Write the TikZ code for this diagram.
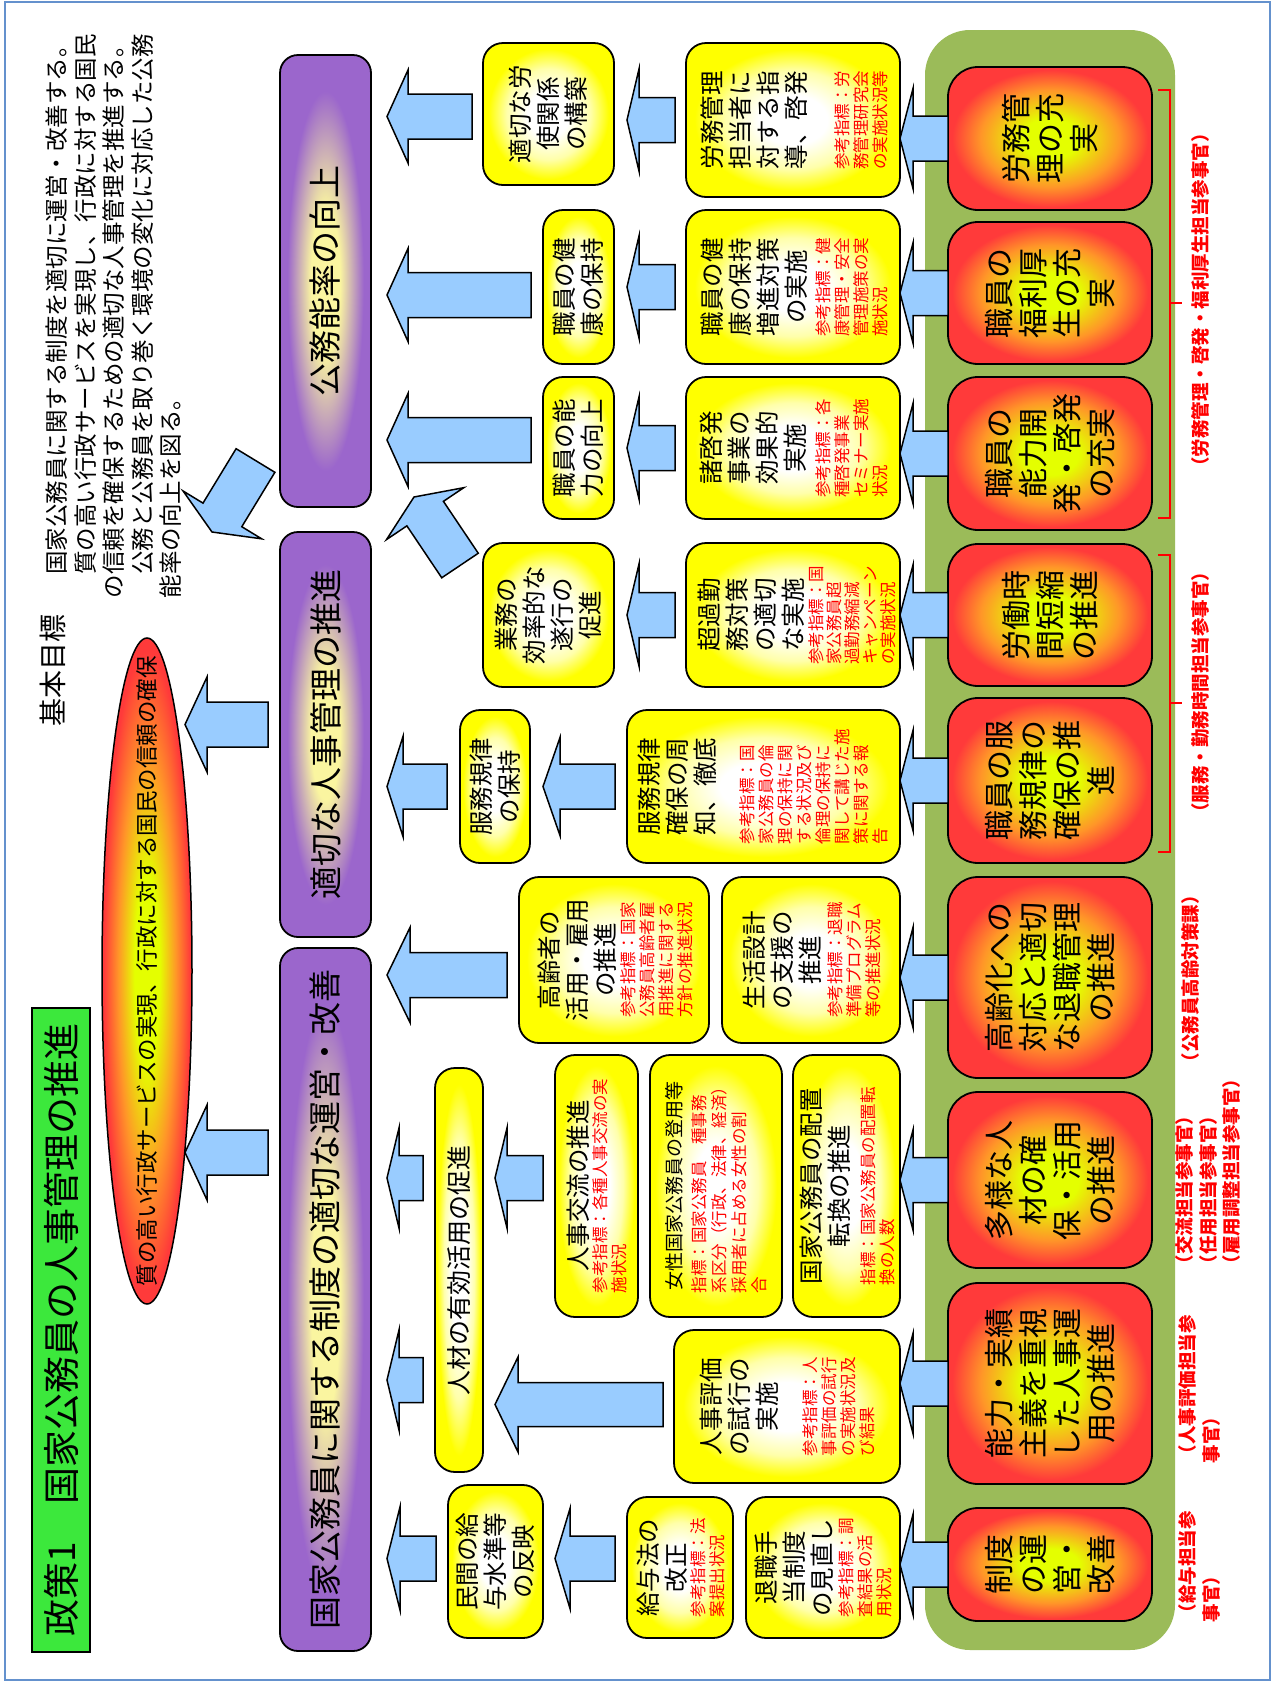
\documentclass[tikz,border=0pt]{standalone}
\usepackage{fontspec}
\setmainfont{Noto Sans CJK JP}
\usetikzlibrary{calc,shapes.geometric}

\definecolor{arrowblue}{RGB}{153,204,255}
\definecolor{panelgreen}{RGB}{155,187,89}
\definecolor{titlegreen}{RGB}{60,232,60}
\definecolor{framec}{RGB}{100,145,205}
\definecolor{notered}{RGB}{255,0,0}
\definecolor{glowcore}{RGB}{228,255,0}
\definecolor{gloworange}{RGB}{255,150,40}
\definecolor{glowred}{RGB}{255,58,58}
\definecolor{ylwmid}{RGB}{255,255,170}
\definecolor{ylwedge}{RGB}{255,255,0}
\definecolor{barmid}{RGB}{250,245,160}
\definecolor{barpurple}{RGB}{155,102,204}

\pgfdeclareradialshading{redglow}{\pgfpointorigin}{color(0bp)=(glowcore); color(7bp)=(glowcore); color(17bp)=(gloworange); color(24bp)=(glowred); color(50bp)=(glowred)}
\pgfdeclareradialshading{yellowglow}{\pgfpointorigin}{color(0bp)=(white); color(8bp)=(white); color(16bp)=(ylwmid); color(23bp)=(ylwedge); color(50bp)=(ylwedge)}
\pgfdeclareradialshading{barglow}{\pgfpointorigin}{color(0bp)=(barmid); color(8bp)=(barmid); color(21bp)=(barpurple); color(50bp)=(barpurple)}
\pgfdeclareradialshading{ellglow}{\pgfpointorigin}{color(0bp)=(glowcore); color(7bp)=(glowcore); color(16bp)=(gloworange); color(24bp)=(glowred); color(50bp)=(glowred)}

% tail, tip, half shaft, half head, head length
\newcommand\blockarrow[5]{%
  \coordinate (ba-h) at ($(#2)!#5pt!(#1)$);
  \draw[barrow] ($(#1)!#3pt!90:(#2)$) -- ($(ba-h)!#3pt!90:(#2)$) -- ($(ba-h)!#4pt!90:(#2)$) -- (#2)
    -- ($(ba-h)!#4pt!-90:(#2)$) -- ($(ba-h)!#3pt!-90:(#2)$) -- ($(#1)!#3pt!-90:(#2)$) -- cycle;}

\tikzset{
  every node/.style={inner sep=0pt, outer sep=0pt},
  titlebox/.style={draw, line width=1.5pt, fill=titlegreen, rotate=90, font=\fontsize{37}{40}\selectfont},
  goalhead/.style={rotate=90, font=\fontsize{28}{30}\selectfont},
  goaltext/.style={rotate=90, align=left, font=\fontsize{23.5}{28.5}\selectfont},
  goalell/.style={ellipse, draw, line width=1.5pt, shade, shading=ellglow, rotate=90},
  elltext/.style={rotate=90, font=\fontsize{22.5}{24}\selectfont},
  bar/.style={draw, line width=1.8pt, rounded corners=18pt, shade, shading=barglow, rotate=90, minimum height=91, font=\fontsize{33}{36}\selectfont},
  redbox/.style={draw, line width=1.8pt, rounded corners=30pt, shade, shading=redglow, rotate=90, minimum height=204, align=center, font=\fontsize{30}{34}\selectfont},
  ybox/.style={draw, line width=1.8pt, rounded corners=20pt, shade, shading=yellowglow, rotate=90, align=center, font=\fontsize{24.5}{28}\selectfont},
  btxt/.style={rotate=90, align=center, font=\fontsize{24.5}{28}\selectfont},
  rtxt/.style={rotate=90, align=left, text=notered, font=\fontsize{16.5}{19}\selectfont},
  chief/.style={rotate=90, text=notered, font=\bfseries\fontsize{18.5}{23.5}\selectfont},
  barrow/.style={draw, line width=1.5pt, fill=arrowblue},
  bracket/.style={notered, line width=1.5pt},
}

\begin{document}
\begin{tikzpicture}[x=1pt, y=-1pt]
  \useasboundingbox (0,0) rectangle (1275,1682);
  \draw[framec, line width=2pt] (5,2) rectangle (1270,1680);

  % title and goal
  \node[titlebox, minimum width=644, minimum height=58] (title) at (61,1330) {政策1　国家公務員の人事管理の推進};
  \node[goalhead] (goal) at (53,670) {基本目標};
  \node[goaltext, anchor=north west] (goaltxt) at (46,598) {　国家公務員に関する制度を適切に運営・改善する。\\　質の高い行政サービスを実現し、行政に対する国民\\の信頼を確保するための適切な人事管理を推進する。\\　公務と公務員を取り巻く環境の変化に対応した公務\\能率の向上を図る。};
  \node[goalell, minimum width=666, minimum height=90] (ell) at (147,971) {};
  \node[elltext] (elltxt) at (ell.center) {質の高い行政サービスの実現、行政に対する国民の信頼の確保};

  % purple bars
  \node[bar, minimum width=452] (bar1) at (325.5,281) {公務能率の向上};
  \node[bar, minimum width=405] (bar2) at (325.5,734.5) {適切な人事管理の推進};
  \node[bar, minimum width=703] (bar3) at (325.5,1299.5) {国家公務員に関する制度の適切な運営・改善};

  % green panel and red boxes
  \fill[panelgreen, rounded corners=45] (925,30) rectangle (1175,1650);
  \node[redbox, minimum width=143] (r1) at (1050,138.5) {労務管\\理の充\\実};
  \node[redbox, minimum width=142] (r2) at (1050,293) {職員の\\福利厚\\生の充\\実};
  \node[redbox, minimum width=153] (r3) at (1050,453.5) {職員の\\能力開\\発・啓発\\の充実};
  \node[redbox, minimum width=142] (r4) at (1050,615) {労働時\\間短縮\\の推進};
  \node[redbox, minimum width=165] (r5) at (1050,780.5) {職員の服\\務規律の\\確保の推\\進};
  \node[redbox, minimum width=201] (r6) at (1050,977.5) {高齢化への\\対応と適切\\な退職管理\\の推進};
  \node[redbox, minimum width=176] (r7) at (1050,1180) {多様な人\\材の確\\保・活用\\の推進};
  \node[redbox, minimum width=201] (r8) at (1050,1383.5) {能力・実績\\主義を重視\\した人事運\\用の推進};
  \node[redbox, minimum width=113] (r9) at (1050,1564.5) {制度\\の運\\営・\\改善};

  % yellow boxes
  \node[ybox, minimum width=142, minimum height=131] (ya1) at (548.5,114) {適切な労\\使関係\\の構築};
  \node[ybox, minimum width=154, minimum height=214] (yb1) at (793,120) {};
  \node[btxt, anchor=north] (yb1t) at ($(yb1.north)+(15,0)$) {労務管理\\担当者に\\対する指\\導、啓発};
  \node[rtxt, anchor=south] (yb1r) at ($(yb1.south)+(-12,0)$) {参考指標：労\\務管理研究会\\の実施状況等};

  \node[ybox, minimum width=154, minimum height=71] (ya2) at (578.5,287) {職員の健\\康の保持};
  \node[ybox, minimum width=154, minimum height=214] (yb2) at (793,287) {};
  \node[btxt, anchor=north] (yb2t) at ($(yb2.north)+(15,0)$) {職員の健\\康の保持\\増進対策\\の実施};
  \node[rtxt, anchor=south] (yb2r) at ($(yb2.south)+(-12,0)$) {参考指標：健\\康管理・安全\\管理施策の実\\施状況};

  \node[ybox, minimum width=142, minimum height=71] (ya3) at (578.5,448) {職員の能\\力の向上};
  \node[ybox, minimum width=142, minimum height=214] (yb3) at (793,448) {};
  \node[btxt, anchor=north] (yb3t) at ($(yb3.north)+(14,0)$) {諸啓発\\事業の\\効果的\\実施};
  \node[rtxt, anchor=south] (yb3r) at ($(yb3.south)+(-12,0)$) {参考指標：各\\種啓発事業\\セミナー実施\\状況};

  \node[ybox, minimum width=144, minimum height=131] (ya4) at (548.5,615) {業務の\\効率的な\\遂行の\\促進};
  \node[ybox, minimum width=144, minimum height=214] (yb4) at (793,615) {};
  \node[btxt, anchor=north] (yb4t) at ($(yb4.north)+(12,0)$) {超過勤\\務対策\\の適切\\な実施};
  \node[rtxt, anchor=south, font=\fontsize{16.5}{18}\selectfont] (yb4r) at ($(yb4.south)+(-4,0)$) {参考指標：国\\家公務員超\\過勤務縮減\\キャンペーン\\の実施状況};

  \node[ybox, minimum width=153, minimum height=70] (ya5) at (495,786.5) {服務規律\\の保持};
  \node[ybox, minimum width=153, minimum height=273] (yb5) at (763.5,786.5) {};
  \node[btxt, anchor=north] (yb5t) at ($(yb5.north)+(11,0)$) {服務規律\\確保の周\\知、徹底};
  \node[rtxt, anchor=south] (yb5r) at ($(yb5.south)+(-12,0)$) {参考指標：国\\家公務員の倫\\理の保持に関\\する状況及び\\倫理の保持に\\関して講じた施\\策に関する報\\告};

  \node[ybox, minimum width=166, minimum height=190] (ya6) at (614,960) {};
  \node[btxt, anchor=north] (ya6t) at ($(ya6.north)+(19,0)$) {高齢者の\\活用・雇用\\の推進};
  \node[rtxt, anchor=south] (ya6r) at ($(ya6.south)+(-16,0)$) {参考指標：国家\\公務員高齢者雇\\用推進に関する\\方針の推進状況};
  \node[ybox, minimum width=166, minimum height=178] (yb6) at (811,960) {};
  \node[btxt, anchor=north] (yb6t) at ($(yb6.north)+(21,0)$) {生活設計\\の支援の\\推進};
  \node[rtxt, anchor=south] (yb6r) at ($(yb6.south)+(-19,0)$) {参考指標：退職\\準備プログラム\\等の推進状況};

  \node[ybox, minimum width=262, minimum height=83] (ya7a) at (596.5,1186) {};
  \node[btxt, anchor=north] (ya7at) at ($(ya7a.north)+(12,0)$) {人事交流の推進};
  \node[rtxt, anchor=south] (ya7ar) at ($(ya7a.south)+(-11,0)$) {参考指標：各種人事交流の実\\施状況};
  \node[ybox, minimum width=262, minimum height=132] (ya7b) at (716,1186) {};
  \node[btxt, anchor=north, font=\fontsize{19}{22}\selectfont] (ya7bt) at ($(ya7b.north)+(15,0)$) {女性国家公務員の登用等};
  \node[rtxt, anchor=south, font=\fontsize{16.5}{20}\selectfont] (ya7br) at ($(ya7b.south)+(-15,0)$) {指標：国家公務員　種事務\\系区分（行政、法律、経済）\\採用者に占める女性の割\\合};
  \node[ybox, minimum width=262, minimum height=107] (ya7c) at (846.5,1186) {};
  \node[btxt, anchor=north] (ya7ct) at ($(ya7c.north)+(7,0)$) {国家公務員の配置\\転換の推進};
  \node[rtxt, anchor=south] (ya7cr) at ($(ya7c.south)+(-5,0)$) {指標：国家公務員の配置転\\換の人数};

  \node[ybox, minimum width=404, minimum height=48, font=\fontsize{25}{28}\selectfont] (ya8) at (459,1270) {人材の有効活用の促進};
  \node[ybox, minimum width=153, minimum height=226] (yb8) at (787,1406.5) {};
  \node[btxt, anchor=north] (yb8t) at ($(yb8.north)+(26,0)$) {人事評価\\の試行の\\実施};
  \node[rtxt, anchor=south] (yb8r) at ($(yb8.south)+(-25,0)$) {参考指標：人\\事評価の試行\\の実施状況及\\び結果};

  \node[ybox, minimum width=153, minimum height=95] (ya9) at (495.5,1561.5) {民間の給\\与水準等\\の反映};
  \node[ybox, minimum width=141, minimum height=106] (yb9a) at (680,1567.5) {};
  \node[btxt, anchor=north] (yb9at) at ($(yb9a.north)+(10,0)$) {給与法の\\改正};
  \node[rtxt, anchor=south] (yb9ar) at ($(yb9a.south)+(-8,0)$) {参考指標：法\\案提出状況};
  \node[ybox, minimum width=141, minimum height=154] (yb9b) at (823,1567.5) {};
  \node[btxt, anchor=north] (yb9bt) at ($(yb9b.north)+(9,0)$) {退職手\\当制度\\の見直し};
  \node[rtxt, anchor=south] (yb9br) at ($(yb9b.south)+(-8,0)$) {参考指標：調\\査結果の活\\用状況};

  % arrows from the red boxes
  \coordinate (r1e) at (yb1.south |- r1.north);
  \blockarrow{r1.north}{r1e}{22.5}{50}{13}
  \coordinate (r2e) at (yb2.south |- r2.north);
  \blockarrow{r2.north}{r2e}{22.5}{50}{13}
  \coordinate (r3e) at (yb3.south |- r3.north);
  \blockarrow{r3.north}{r3e}{22.5}{50}{13}
  \coordinate (r4e) at (yb4.south |- r4.north);
  \blockarrow{r4.north}{r4e}{22.5}{50}{13}
  \coordinate (r5e) at (yb5.south |- r5.north);
  \blockarrow{r5.north}{r5e}{22.5}{50}{13}
  \coordinate (r6e) at (yb6.south |- r6.north);
  \blockarrow{r6.north}{r6e}{22.5}{50}{13}
  \coordinate (r7e) at (ya7c.south |- r7.north);
  \blockarrow{r7.north}{r7e}{22.5}{50}{13}
  \coordinate (r8e) at (yb8.south |- r8.north);
  \blockarrow{r8.north}{r8e}{22.5}{50}{13}
  \coordinate (r9e) at (yb9b.south |- r9.north);
  \blockarrow{r9.north}{r9e}{22.5}{50}{13}

  % arrows between the yellow boxes
  \coordinate (b1s) at ($(yb1.north)+(-11,0)$);
  \coordinate (b1e) at ($(ya1.south |- b1s)+(13,0)$);
  \blockarrow{b1s}{b1e}{22.5}{51}{12}
  \coordinate (b2s) at ($(yb2.north)+(-11,0)$);
  \coordinate (b2e) at ($(ya2.south |- b2s)+(13,0)$);
  \blockarrow{b2s}{b2e}{22.5}{51}{12}
  \coordinate (b3s) at ($(yb3.north)+(-11,0)$);
  \coordinate (b3e) at ($(ya3.south |- b3s)+(13,0)$);
  \blockarrow{b3s}{b3e}{22.5}{51}{12}
  \coordinate (b4s) at ($(yb4.north)+(-11,0)$);
  \coordinate (b4e) at ($(ya4.south |- b4s)+(13,0)$);
  \blockarrow{b4s}{b4e}{22.5}{51}{12}
  \coordinate (b5s) at ($(yb5.north)+(-12,0)$);
  \coordinate (b5e) at ($(ya5.south |- b5s)+(13,0)$);
  \blockarrow{b5s}{b5e}{22.5}{49}{17}
  \coordinate (b7s) at ($(ya7a.north)+(-12,-8)$);
  \coordinate (b7e) at ($(ya8.south |- b7s)+(12,0)$);
  \blockarrow{b7s}{b7e}{22.5}{50}{12}
  \coordinate (b8s) at ($(yb8.north)+(-11,-2)$);
  \coordinate (b8e) at ($(ya8.south |- b8s)+(12,0)$);
  \blockarrow{b8s}{b8e}{22}{47.5}{23}
  \coordinate (b9s) at ($(yb9a.north)+(-12,-9)$);
  \coordinate (b9e) at ($(ya9.south |- b9s)+(12,0)$);
  \blockarrow{b9s}{b9e}{22.5}{50}{15}

  % arrows into the bars
  \coordinate (a1s) at ($(ya1.north)+(-11,2.5)$);
  \coordinate (a1e) at ($(bar1.south |- a1s)+(16,0)$);
  \blockarrow{a1s}{a1e}{22.5}{46.5}{21}
  \coordinate (a2s) at ($(ya2.north)+(-12,8)$);
  \coordinate (a2e) at ($(bar1.south |- a2s)+(16,0)$);
  \blockarrow{a2s}{a2e}{22.5}{46.5}{21}
  \coordinate (a3s) at ($(ya3.north)+(-12,-8)$);
  \coordinate (a3e) at ($(bar1.south |- a3s)+(16,0)$);
  \blockarrow{a3s}{a3e}{22.5}{46.5}{21}
  \coordinate (a4s) at ($(ya4.north)+(-23,-49.5)$);
  \coordinate (a4e) at ($(bar1.south west)+(43,-10)$);
  \blockarrow{a4s}{a4e}{22}{46.5}{20}
  \coordinate (a5s) at ($(ya5.north)+(-13,0)$);
  \coordinate (a5e) at ($(bar2.south |- a5s)+(16,0)$);
  \blockarrow{a5s}{a5e}{22.5}{50}{16}
  \coordinate (a6s) at ($(ya6.north)+(-12,15)$);
  \coordinate (a6e) at ($(bar3.south |- a6s)+(16,0)$);
  \blockarrow{a6s}{a6e}{22.5}{47.5}{23}
  \coordinate (a7s) at ($(ya8.north)+(-12,-92)$);
  \coordinate (a7e) at ($(bar3.south |- a7s)+(16,0)$);
  \blockarrow{a7s}{a7e}{22.5}{50}{12}
  \coordinate (a8s) at ($(ya8.north)+(-12,110)$);
  \coordinate (a8e) at ($(bar3.south |- a8s)+(16,0)$);
  \blockarrow{a8s}{a8e}{22.5}{50}{12}
  \coordinate (a9s) at ($(ya9.north)+(-12,-3)$);
  \coordinate (a9e) at ($(bar3.south |- a9s)+(16,0)$);
  \blockarrow{a9s}{a9e}{22.5}{51.5}{13}

  % arrows into the goal
  \coordinate (g1s) at ($(bar1.north)+(-24.5,179.5)$);
  \coordinate (g1e) at ($(ell.east)+(65,-106)$);
  \blockarrow{g1s}{g1e}{22.7}{46}{20}
  \coordinate (g2s) at ($(bar2.north)+(-12,-10)$);
  \coordinate (g2e) at ($(ell.south |- g2s)+(-7,0)$);
  \blockarrow{g2s}{g2e}{22.5}{47.5}{22}
  \coordinate (g3s) at ($(bar3.north)+(-12,-147)$);
  \coordinate (g3e) at ($(ell.south |- g3s)+(-7,0)$);
  \blockarrow{g3s}{g3e}{22.5}{47.5}{22}

  % responsible officers
  \draw[bracket] (1158,90) -- (1170,90) -- (1170,518) -- (1158,518);
  \draw[bracket] (1170,303) -- (1182,303);
  \draw[bracket] (1158,555) -- (1170,555) -- (1170,852) -- (1158,852);
  \draw[bracket] (1170,703) -- (1182,703);
  \node[chief] (c1) at (1200,300) {（労務管理・啓発・福利厚生担当参事官）};
  \node[chief] (c2) at (1200,692) {（服務・勤務時間担当参事官）};
  \node[chief] (c3) at (1190,978.5) {（公務員高齢対策課）};
  \node[chief, align=left, anchor=north west] (c4) at (1176,1273) {（交流担当参事官）\\（任用担当参事官）\\（雇用調整担当参事官）};
  \node[chief, align=left, anchor=north west] (c5) at (1179,1463) {（人事評価担当参\\事官）};
  \node[chief, align=left, anchor=north west] (c6) at (1179,1622) {（給与担当参\\事官）};
\end{tikzpicture}
\end{document}
